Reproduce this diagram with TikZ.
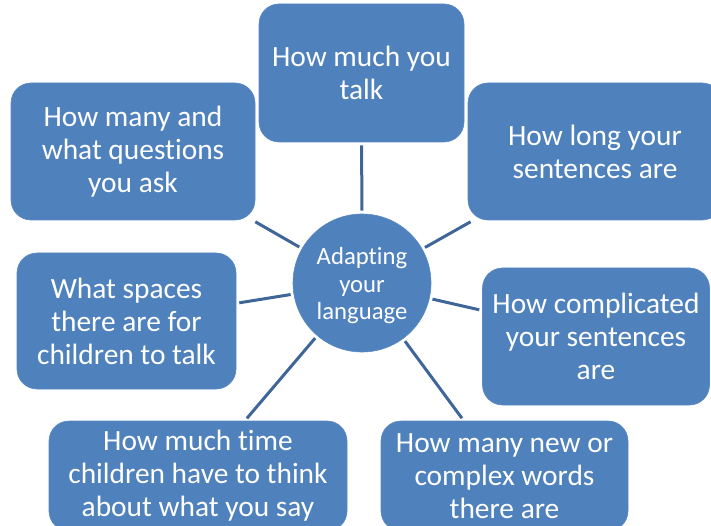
\documentclass[tikz,border=0pt]{standalone}
\usepackage{fontspec}
\setmainfont{Carlito}[Ligatures=NoCommon]
\begin{document}
\begin{tikzpicture}[x=1pt,y=-1pt,
  topic/.style={rectangle, rounded corners=20pt, fill=boxblue, draw=boxedge, line width=0.6pt,
    text=white, align=center, inner sep=0pt,
    font=\fontsize{29.4}{33}\selectfont},
  hub/.style={circle, fill=boxblue, draw=boxedge, line width=0.6pt,
    inner sep=0pt, minimum size=138pt},
  hubtext/.style={text=white, align=center, inner sep=0pt,
    font=\fontsize{24.7}{27.5}\selectfont},
  spoke/.style={draw=spokeblue, line width=3pt, shorten <=3pt, shorten >=3pt}]
\definecolor{boxblue}{HTML}{4F81BD}
\definecolor{boxedge}{HTML}{5A89C2}
\definecolor{spokeblue}{HTML}{3E6699}
\useasboundingbox (0,0) rectangle (711,526);
\clip (0,0) rectangle (711,526);

% central hub and its caption
\node[hub] (hub) at (362,283) {};
\node[hubtext] (hublabel) at (362,286) {Adapting\\your\\language};

% surrounding topics
\node[topic, minimum width=205pt, minimum height=138pt] (talk) at (361.5,73) {How much you\\talk};
\node[topic, minimum width=244pt, minimum height=137pt] (ask) at (133,151.5) {How many and\\what questions\\you ask};
\node[topic, minimum width=254pt, minimum height=137pt] (long) at (595,151.5) {How long your\\sentences are};
\node[topic, minimum width=219pt, minimum height=136pt] (spaces) at (126.5,321) {What spaces\\there are for\\children to talk};
\node[topic, minimum width=227pt, minimum height=137pt] (complex) at (596,336.5) {How complicated\\your sentences\\are};
\node[topic, minimum width=298pt, minimum height=110pt] (time) at (198,476) {How much time\\children have to think\\about what you say};
\node[topic, minimum width=247pt, minimum height=110pt] (words) at (504.5,476) {How many new or\\complex words\\there are};

% spokes from the hub
\foreach \t in {talk,ask,long,spaces,complex,time,words}
  \draw[spoke] (hub) -- (\t);
\end{tikzpicture}
\end{document}
